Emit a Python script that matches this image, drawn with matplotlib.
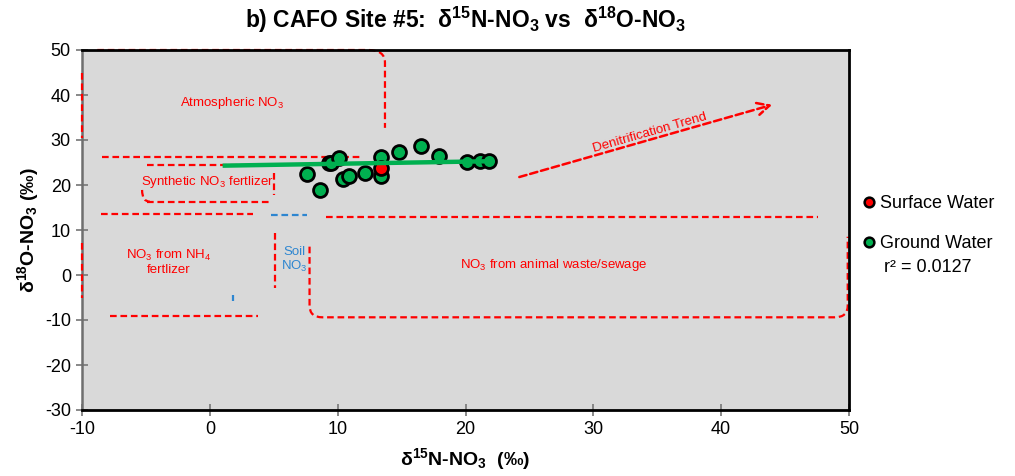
import numpy as np
import matplotlib.pyplot as plt
from matplotlib.path import Path
from matplotlib.patches import PathPatch
from matplotlib.lines import Line2D

plt.rcParams["font.family"] = ["Liberation Sans", "DejaVu Sans"]
plt.rcParams["mathtext.fontset"] = "custom"
plt.rcParams["mathtext.rm"] = "Liberation Sans"
plt.rcParams["mathtext.bf"] = "Liberation Sans:bold"
plt.rcParams["mathtext.it"] = "Liberation Sans:italic"
plt.rcParams["axes.unicode_minus"] = False

# =========================
# data
# =========================
surface_x = [13.4]
surface_y = [23.7]

ground_x = [7.6, 8.6, 9.3, 9.5, 10.1, 10.4, 10.9, 12.1, 13.4, 13.4,
            14.8, 16.5, 17.9, 20.1, 21.1, 21.8]
ground_y = [22.4, 19.0, 24.8, 24.8, 26.1, 21.3, 22.0, 22.6, 26.2, 21.9,
            27.3, 28.7, 26.4, 25.2, 25.3, 25.3]

# linear trendline of ground water (as shown by the chart)
trend_x = [1.0, 21.8]
trend_slope = 0.047
trend_intercept = 24.25
r2_label = "r² = 0.0127"

x_ticks = [-10, 0, 10, 20, 30, 40, 50]
y_ticks = [-30, -20, -10, 0, 10, 20, 30, 40, 50]

# source region outlines (data coords); "C" marks a rounded corner control point
atmos_box = [(-8.8, 50), (12.4, 50), ("C", 13.7, 50), (13.7, 47.2), (13.7, 32.7)]
atmos_left = [(-10, 44.9), (-10, 30.4)]
synth_top = [(-8.4, 26.3), (12.0, 26.3)]
synth_mid = [(-4.9, 24.4), (3.7, 24.4)]
synth_right = [(5.0, 22.6), (5.0, 17.8)]
synth_bottom = [(-4.9, 16.3), (4.7, 16.3)]
synth_corner = [(-5.3, 18.9), ("C", -5.3, 16.3), (-4.7, 16.3)]
nh4_top = [(-8.5, 13.6), (3.4, 13.6)]
nh4_left = [(-10, 7.1), (-10, -5.2)]
nh4_right = [(5.1, 9.3), (5.1, -2.9)]
nh4_bottom = [(-7.8, -9.1), (3.8, -9.1)]
waste_top = [(9.1, 12.9), (47.6, 12.9)]
waste_box = [(7.8, 6.3), (7.8, -6.8), ("C", 7.8, -9.4), (8.8, -9.4),
             (48.9, -9.4), ("C", 49.9, -9.4), (49.9, -6.8), (49.9, 8.5)]
soil_top = [(4.8, 13.3), (7.6, 13.3)]
soil_tick = [(1.8, -4.4), (1.8, -5.7)]

red_lines = [atmos_box, synth_top, synth_mid, synth_right,
             synth_bottom, synth_corner, nh4_top, nh4_right,
             nh4_bottom, waste_top, waste_box]
edge_lines = [atmos_left, nh4_left]      # these sit on the left axis line
blue_lines = [soil_top, soil_tick]

region_labels = [
    ("Atmospheric NO$_3$", 1.7, 38.2),
    ("Synthetic NO$_3$ fertlizer", -0.2, 20.7),
    ("NO$_3$ from NH$_4$\nfertlizer", -3.2, 2.9),
    ("NO$_3$ from animal waste/sewage", 26.9, 2.2),
]
soil_label = ("Soil\nNO$_3$", 6.6, 3.3)

denit_start = (24.0, 21.6)
denit_end = (44.2, 38.0)
denit_label = ("Denitrification Trend", 34.4, 31.6)

RED = "#FF0000"
BLUE = "#2E86D0"
GREEN = "#00B050"


def make_path(pts):
    verts, codes = [], []
    for i, p in enumerate(pts):
        if p[0] == "C":
            verts.append((p[1], p[2]))
            codes.append(Path.CURVE3)
        else:
            verts.append(p)
            if i == 0:
                codes.append(Path.MOVETO)
            elif codes[-1] == Path.CURVE3 and (len(codes) < 2 or codes[-2] != Path.CURVE3):
                codes.append(Path.CURVE3)
            else:
                codes.append(Path.LINETO)
    return Path(verts, codes)


fig = plt.figure(figsize=(10.15, 4.76), dpi=100)
ax = fig.add_axes([82 / 1015, 1 - 410 / 476, (849 - 82) / 1015, 360 / 476])
ax.set_facecolor("#D9D9D9")

for pts in red_lines:
    ax.add_patch(PathPatch(make_path(pts), fill=False, edgecolor=RED, lw=1.6,
                           linestyle=(0, (3, 1.7)), zorder=2, clip_on=False))
for pts in edge_lines:
    ax.add_patch(PathPatch(make_path(pts), fill=False, edgecolor=RED, lw=1.6,
                           linestyle=(0, (3, 1.7)), zorder=6, clip_on=False))
for pts in blue_lines:
    ax.add_patch(PathPatch(make_path(pts), fill=False, edgecolor=BLUE, lw=1.6,
                           linestyle=(0, (3, 1.7)), zorder=2, clip_on=False))

for txt, x, y in region_labels:
    ax.text(x, y, txt, color=RED, fontsize=9.5, ha="center", va="center",
            linespacing=1.1, zorder=3)
ax.text(soil_label[1], soil_label[2], soil_label[0], color=BLUE, fontsize=9.5,
        ha="center", va="center", linespacing=1.1, zorder=3)

ax.annotate("", xy=denit_end, xytext=denit_start,
            arrowprops=dict(arrowstyle="->", color=RED, lw=1.8,
                            linestyle=(0, (3, 1.5)), mutation_scale=22),
            zorder=3)
ax.text(denit_label[1], denit_label[2], denit_label[0], color=RED, fontsize=9.5,
        rotation=16, rotation_mode="anchor", ha="center", va="center", zorder=3)

# series
ax.scatter(ground_x, ground_y, s=100, c=GREEN, edgecolors="black",
           linewidths=2.0, zorder=4)
ax.scatter(surface_x, surface_y, s=100, c=RED, edgecolors="black",
           linewidths=2.0, zorder=4)

tx = np.array(trend_x)
ax.plot(tx, trend_slope * tx + trend_intercept, color=GREEN, lw=3.2,
        solid_capstyle="butt", zorder=5)

ax.set_xlim(-10, 50)
ax.set_ylim(-30, 50)
ax.set_xticks(x_ticks)
ax.set_yticks(y_ticks)
ax.tick_params(direction="inout", length=8, width=1.3, color="#7F7F7F",
               labelsize=13, pad=4)

for side in ["top", "right", "bottom"]:
    ax.spines[side].set_color("black")
    ax.spines[side].set_linewidth(2.0)
ax.spines["left"].set_color("#6F6F6F")
ax.spines["left"].set_linewidth(1.8)

ax.set_title(r"b) CAFO Site #5:  δ$^{\mathbf{15}}$N-NO$_{\mathbf{3}}$ vs  δ$^{\mathbf{18}}$O-NO$_{\mathbf{3}}$",
             fontsize=16.5, fontweight="bold", pad=16)
ax.set_xlabel(r"δ$^{\mathbf{15}}$N-NO$_{\mathbf{3}}$  (‰)", fontsize=14,
              fontweight="bold", labelpad=6)
ax.set_ylabel(r"δ$^{\mathbf{18}}$O-NO$_{\mathbf{3}}$ (‰)", fontsize=14,
              fontweight="bold", labelpad=3)

handles = [
    Line2D([], [], ls="none", marker="o", ms=7, mfc=RED, mec="black", mew=1.8),
    Line2D([], [], ls="none", marker="o", ms=7, mfc=GREEN, mec="black", mew=1.8),
]
fig.legend(handles, ["Surface Water", "Ground Water"], loc="upper left",
           bbox_to_anchor=(862 / 1015, 1 - 195 / 476), frameon=False,
           fontsize=13, handlelength=0.8, handletextpad=0.2, labelspacing=1.3,
           borderaxespad=0, borderpad=0)
fig.text(928 / 1015, 1 - 267 / 476, r2_label, ha="center", va="center",
         fontsize=13)

fig.savefig("out.png", dpi=100)
